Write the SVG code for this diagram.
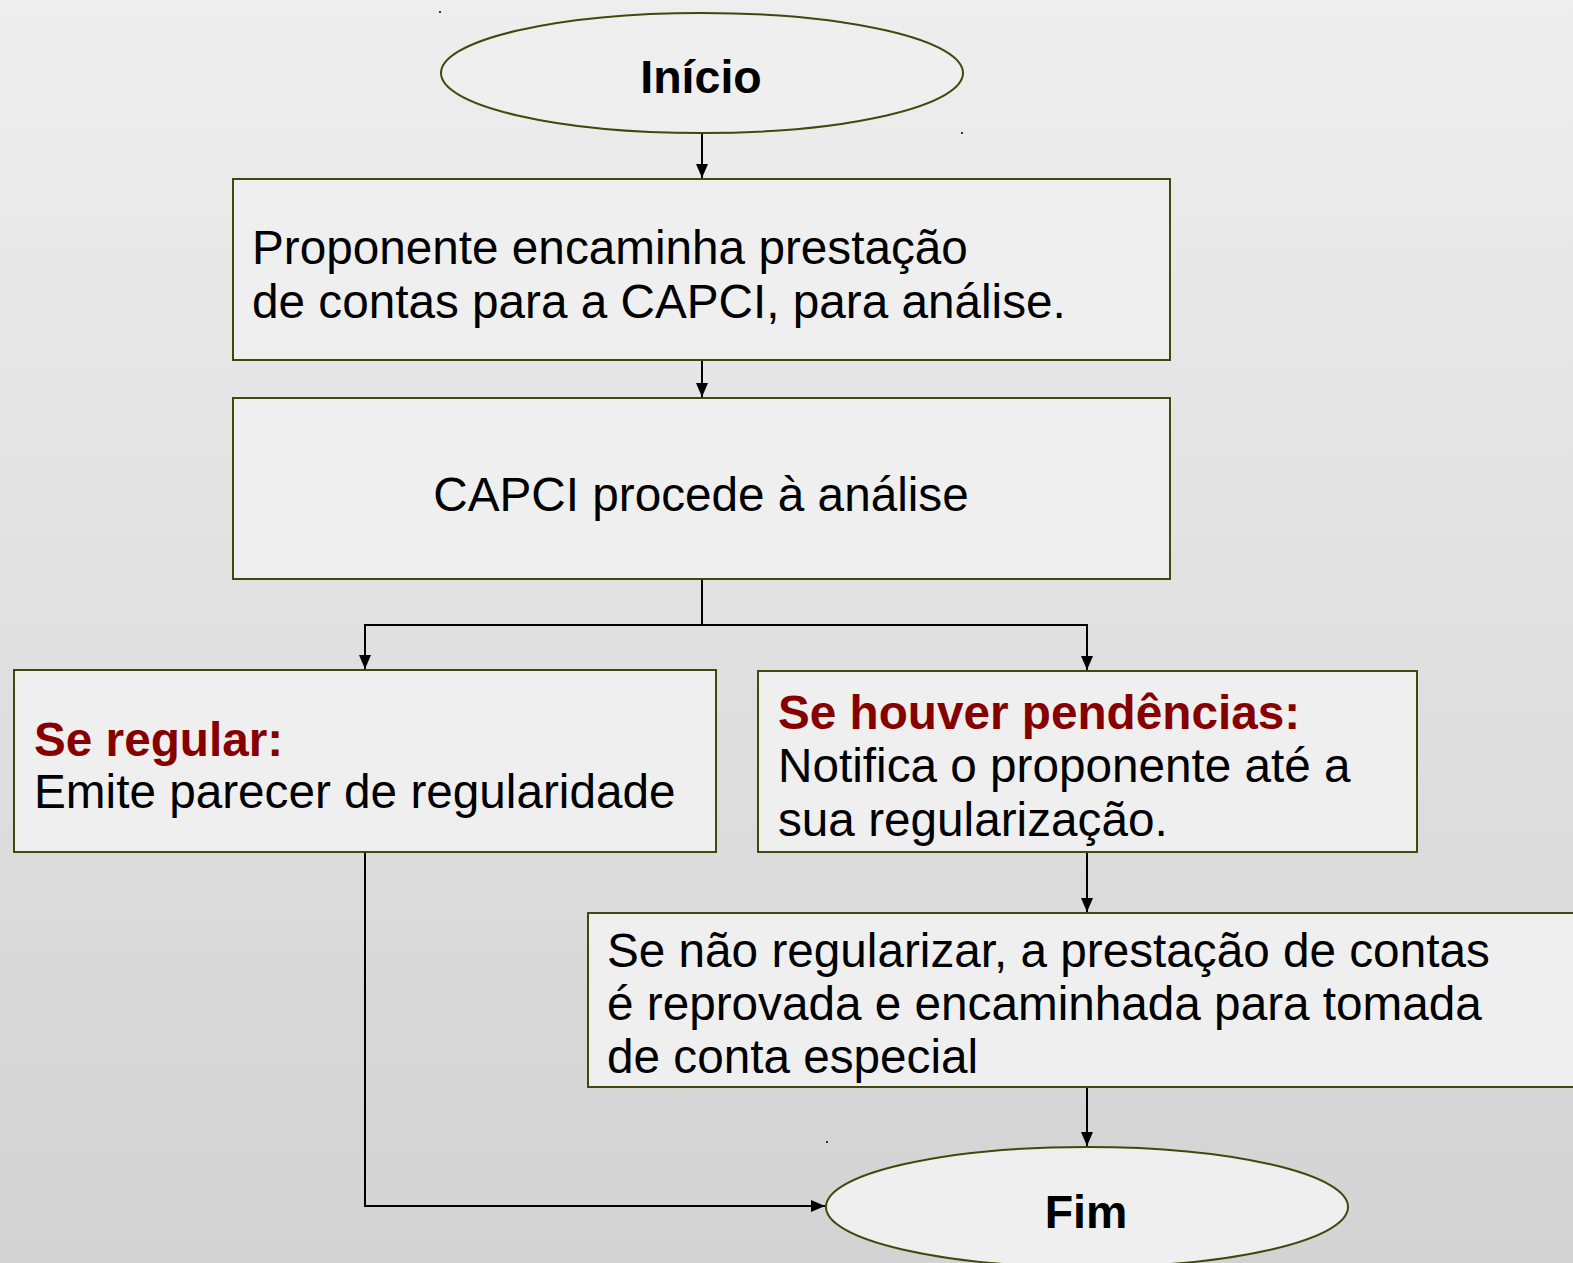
<svg xmlns="http://www.w3.org/2000/svg" width="1573" height="1263" viewBox="0 0 1573 1263">
<defs>
<linearGradient id="bg" x1="0" y1="0" x2="0" y2="1">
<stop offset="0" stop-color="#eeeeee"/>
<stop offset="1" stop-color="#d3d3d3"/>
</linearGradient>
<marker id="arr" markerWidth="14" markerHeight="12" refX="14" refY="6" orient="auto" markerUnits="userSpaceOnUse">
<path d="M0,0 L14,6 L0,12 Z" fill="#000"/>
</marker>
<style>
.shape{fill:#efefef;stroke:#3d4a0c;stroke-width:2}
.t{font-family:"Liberation Sans",Arial,sans-serif;font-size:47.7px;fill:#000}
.red{fill:#870000;font-weight:bold}
.term{font-family:"Liberation Sans",Arial,sans-serif;font-size:46.5px;font-weight:bold;fill:#000;text-anchor:middle}
.c{fill:none;stroke:#000;stroke-width:2}
</style>
</defs>
<rect width="1573" height="1263" fill="url(#bg)"/>
<g fill="#333">
<rect x="439" y="11" width="2" height="2"/>
<rect x="961" y="132" width="2" height="2"/>
<rect x="826" y="1141" width="2" height="2"/>
</g>
<g id="connectors">
<path class="c" d="M702,133 V178" marker-end="url(#arr)"/>
<path class="c" d="M702,360 V397" marker-end="url(#arr)"/>
<path class="c" d="M702,579 V625 H365 V669" marker-end="url(#arr)"/>
<path class="c" d="M702,625 H1087 V670" marker-end="url(#arr)"/>
<path class="c" d="M1087,852 V912" marker-end="url(#arr)"/>
<path class="c" d="M1087,1087 V1146" marker-end="url(#arr)"/>
<path class="c" d="M365,852 V1206 H825" marker-end="url(#arr)"/>
</g>
<g id="inicio">
<ellipse class="shape" cx="702" cy="73" rx="261" ry="60"/>
<text class="term" x="701" y="93">Início</text>
</g>
<g id="encaminha">
<rect class="shape" x="233" y="179" width="937" height="181"/>
<text class="t" x="252" y="264">Proponente encaminha prestação</text>
<text class="t" x="252" y="318">de contas para a CAPCI, para análise.</text>
</g>
<g id="analise">
<rect class="shape" x="233" y="398" width="937" height="181"/>
<text class="t" x="701" y="511" text-anchor="middle">CAPCI procede à análise</text>
</g>
<g id="regular">
<rect class="shape" x="14" y="670" width="702" height="182"/>
<text class="t red" x="34" y="756">Se regular:</text>
<text class="t" x="34" y="808">Emite parecer de regularidade</text>
</g>
<g id="pendencias">
<rect class="shape" x="758" y="671" width="659" height="181"/>
<text class="t red" x="778" y="729">Se houver pendências:</text>
<text class="t" x="778" y="782">Notifica o proponente até a</text>
<text class="t" x="778" y="836">sua regularização.</text>
</g>
<g id="reprovada">
<rect class="shape" x="588" y="913" width="1000" height="174"/>
<text class="t" x="607" y="967">Se não regularizar, a prestação de contas</text>
<text class="t" x="607" y="1020">é reprovada e encaminhada para tomada</text>
<text class="t" x="607" y="1073">de conta especial</text>
</g>
<g id="fim">
<ellipse class="shape" cx="1087" cy="1207" rx="261" ry="60"/>
<text class="term" x="1086" y="1228">Fim</text>
</g>
</svg>
